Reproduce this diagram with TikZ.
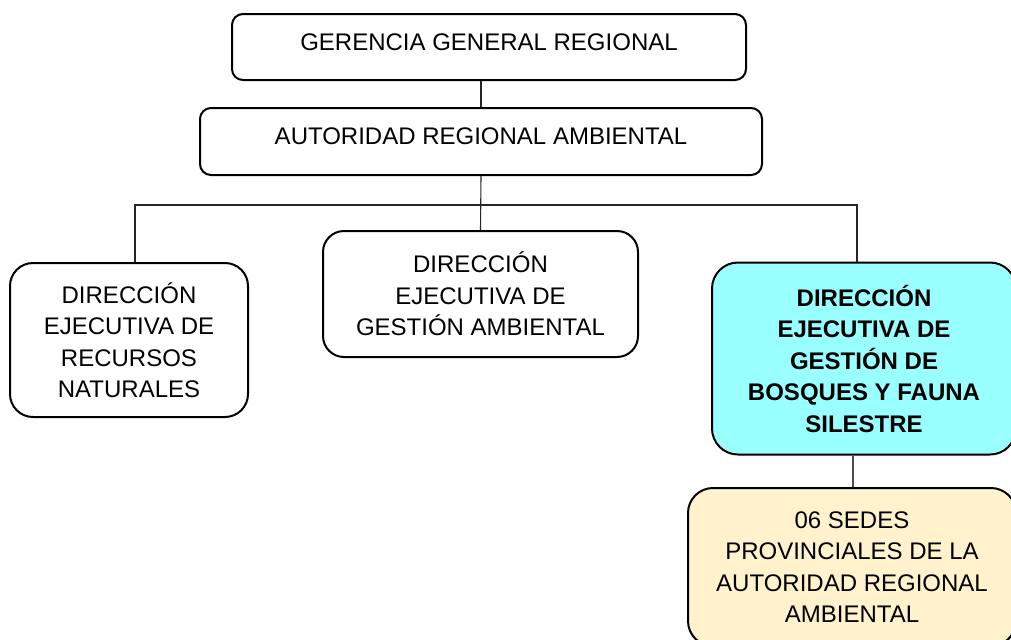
\documentclass[tikz,border=0pt]{standalone}
\usepackage{fontspec}
\setmainfont{Liberation Sans}
\definecolor{boxcyan}{HTML}{99FFFF}
\definecolor{boxcream}{HTML}{FFF2CC}
\begin{document}
\begin{tikzpicture}[x=0.5pt,y=-0.5pt,
  orgbox/.style={draw=black, line width=1pt, fill=white, align=center, inner sep=0pt,
    font=\fontsize{12pt}{15.75pt}\selectfont},
  link/.style={draw=black!85, line width=0.55pt}]
\clip (0,0) rectangle (1011,639);
\fill[white] (0,0) rectangle (1011,639);
% boxes
\node[orgbox, rounded corners=5.5pt, minimum width=257pt, minimum height=33pt] (b1) at (489,47)
  {\raisebox{2.3pt}[\height][\depth]{GERENCIA GENERAL REGIONAL}};
\node[orgbox, rounded corners=5.5pt, minimum width=281pt, minimum height=33.5pt] (b2) at (481,141.5)
  {\raisebox{2.4pt}[\height][\depth]{AUTORIDAD REGIONAL AMBIENTAL}};
\node[orgbox, rounded corners=11.5pt, minimum width=119pt, minimum height=77pt] (b3) at (129,340)
  {DIRECCIÓN\\EJECUTIVA DE\\RECURSOS\\NATURALES};
\node[orgbox, rounded corners=10.5pt, minimum width=157.5pt, minimum height=63pt] (b4) at (480.5,294)
  {DIRECCIÓN\\EJECUTIVA DE\\GESTIÓN AMBIENTAL};
\node[orgbox, fill=boxcyan, rounded corners=13pt, minimum width=152pt, minimum height=96pt] (b5) at (864,358.5)
  {\bfseries DIRECCIÓN\\\bfseries EJECUTIVA DE\\\bfseries GESTIÓN DE\\\bfseries BOSQUES Y FAUNA\\\bfseries SILESTRE};
\node[orgbox, fill=boxcream, rounded corners=12.5pt, minimum width=164pt, minimum height=79pt] (b6) at (852,567)
  {06 SEDES\\PROVINCIALES DE LA\\AUTORIDAD REGIONAL\\AMBIENTAL};
% connector points
\coordinate (bl) at (135,205);
\coordinate (bm) at (481,205);
\coordinate (br) at (857,205);
\coordinate (c6) at (853,470);
% connectors
\draw[link] (b2.north) -- (b2.north |- b1.south);
\draw[link] (b2.south) -- (b4.north);
\draw[link] (b3.north -| bl) -- (bl) -- (br) -- (b5.north -| br);
\draw[link, draw=black!70, line width=0.9pt] (b5.south -| c6) -- (b6.north -| c6);
\end{tikzpicture}
\end{document}
